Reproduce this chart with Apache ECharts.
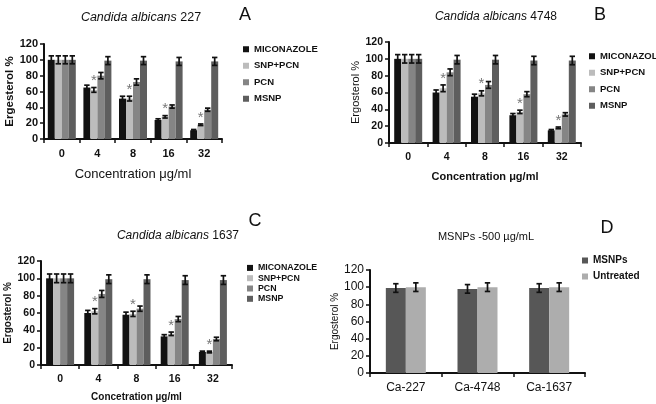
<!DOCTYPE html>
<html>
<head>
<meta charset="UTF-8">
<title>Ergosterol</title>
<script src="https://cdn.jsdelivr.net/npm/echarts@6/dist/echarts.min.js"></script>
<style>
  html, body { margin: 0; padding: 0; background: #fff; }
  #main { width: 656px; height: 404px; }
</style>
</head>
<body>
<div id="main"></div>
<script>
// categories and series
var concentrations = ['0', '4', '8', '16', '32'];
var drugNames = ['MICONAZOLE', 'SNP+PCN', 'PCN', 'MSNP'];
var strains = ['Ca-227', 'Ca-4748', 'Ca-1637'];
var controlNames = ['MSNPs', 'Untreated'];

// panel A - Candida albicans 227 (rows follow drugNames)
var valuesA = [
  [100, 65, 51, 24, 11],
  [100, 62, 51, 28, 18],
  [100, 80, 72, 41, 37],
  [100, 99, 99, 98, 98]
];
var errorsA = [
  [5, 3, 3, 1.5, 1],
  [5, 3, 3, 1.5, 1],
  [5, 4, 4, 2, 2],
  [5, 5, 5, 5, 5]
];
// panel B - Candida albicans 4748
var valuesB = [
  [100, 60, 55, 33, 15],
  [100, 65, 59, 37, 18],
  [100, 84, 69, 58, 34],
  [100, 99, 99, 98, 98]
];
var errorsB = [
  [5, 3, 3, 2, 1],
  [5, 4, 3, 2, 1],
  [5, 4, 4, 3, 2],
  [5, 5, 5, 5, 5]
];
// panel C - Candida albicans 1637
var valuesC = [
  [100, 60, 58, 33, 15],
  [100, 62, 59, 36, 15],
  [100, 82, 65, 53, 30],
  [100, 99, 99, 98, 98]
];
var errorsC = [
  [5, 3, 3, 2, 1],
  [5, 3, 3, 2, 1],
  [5, 4, 3, 3, 2],
  [5, 5, 5, 5, 5]
];
// significance marks on SNP+PCN (1 = asterisk)
var starsSnp = [0, 1, 1, 1, 1];
// panel D - MSNPs 500 µg/mL
var msnpValues = [99, 98, 99];
var untreatedValues = [100, 100, 100];
var msnpErrors = [5, 5, 5];
var untreatedErrors = [5, 5, 5];

var drugColors = ['#121212', '#bcbcbc', '#858585', '#5e5e5e'];
var controlColors = ['#575757', '#adadad'];

var chart = echarts.init(document.getElementById('main'));

function errBars(gi, values, errors, idx, n, w, stars) {
  return {
    type: 'custom',
    xAxisIndex: gi,
    yAxisIndex: gi,
    z: 5,
    silent: true,
    data: values.map(function (v, i) { return [i, v, errors[i], stars ? stars[i] : 0]; }),
    encode: { x: 0, y: 1 },
    renderItem: function (params, api) {
      var c = api.value(0), v = api.value(1), e = api.value(2);
      var off = (idx - (n - 1) / 2) * w;
      var top = api.coord([c, v + e]);
      var bot = api.coord([c, v - e]);
      var x = top[0] + off;
      var cap = 2.7;
      var st = { stroke: '#111', lineWidth: 1.7 };
      var kids = [
        { type: 'line', shape: { x1: x, y1: top[1], x2: x, y2: bot[1] }, style: st },
        { type: 'line', shape: { x1: x - cap, y1: top[1], x2: x + cap, y2: top[1] }, style: st },
        { type: 'line', shape: { x1: x - cap, y1: bot[1], x2: x + cap, y2: bot[1] }, style: st }
      ];
      if (api.value(3)) {
        kids.push({
          type: 'text',
          style: {
            text: '*', x: x, y: top[1] + 1,
            align: 'center', verticalAlign: 'bottom',
            font: '15px Arial, Liberation Sans', fill: '#777'
          }
        });
      }
      return { type: 'group', children: kids };
    }
  };
}

function drugSeries(gi, values, errors) {
  var out = [];
  drugNames.forEach(function (name, k) {
    out.push({
      name: name, type: 'bar', xAxisIndex: gi, yAxisIndex: gi,
      barWidth: 7, barGap: '0%',
      itemStyle: { color: drugColors[k] },
      data: values[k]
    });
  });
  drugNames.forEach(function (name, k) {
    out.push(errBars(gi, values[k], errors[k], k, 4, 7, k === 1 ? starsSnp : null));
  });
  return out;
}

var axisLine = { show: true, lineStyle: { color: '#111', width: 2 } };
var tickStyle = { show: true, length: 4, lineStyle: { color: '#111', width: 1.5 } };

function yAx(gi, fs, bold, name, nfs, nbold, gap) {
  return {
    type: 'value', gridIndex: gi, min: 0, max: 120, interval: 20,
    axisLine: axisLine, axisTick: tickStyle, splitLine: { show: false },
    axisLabel: { color: '#111', fontSize: fs, fontWeight: bold ? 'bold' : 'normal', margin: 6, fontFamily: 'Arial, Liberation Sans' },
    name: name, nameLocation: 'middle', nameGap: gap, nameRotate: 90,
    nameTextStyle: { color: '#111', fontSize: nfs, fontWeight: nbold ? 'bold' : 'normal', fontFamily: 'Arial, Liberation Sans' }
  };
}

function xAx(gi, cats, fs, bold, name, nfs, nbold, gap) {
  return {
    type: 'category', gridIndex: gi, data: cats,
    axisLine: axisLine, axisTick: tickStyle,
    axisLabel: { color: '#111', fontSize: fs, fontWeight: bold ? 'bold' : 'normal', margin: 9, fontFamily: 'Arial, Liberation Sans' },
    name: name, nameLocation: 'middle', nameGap: gap,
    nameTextStyle: { color: '#111', fontSize: nfs, fontWeight: nbold ? 'bold' : 'normal', fontFamily: 'Arial, Liberation Sans' }
  };
}

function legend(items, left, top, fs, gap) {
  return {
    data: items, left: left, top: top, orient: 'vertical',
    icon: 'rect', itemWidth: 6, itemHeight: 6, itemGap: gap,
    selectedMode: false,
    textStyle: { color: '#111', fontSize: fs, fontWeight: 'bold', lineHeight: fs + 1, fontFamily: 'Arial, Liberation Sans' }
  };
}

function titleText(text, x, y, size) {
  return {
    text: text, left: x, top: y, textAlign: 'center',
    textStyle: {
      color: '#111', fontSize: size, fontWeight: 'normal', fontFamily: 'Arial, Liberation Sans',
      rich: { i: { fontStyle: 'italic', fontSize: size, color: '#111', fontFamily: 'Arial, Liberation Sans' } }
    }
  };
}

var series = []
  .concat(drugSeries(0, valuesA, errorsA))
  .concat(drugSeries(1, valuesB, errorsB))
  .concat(drugSeries(2, valuesC, errorsC));

series.push({
  name: controlNames[0], type: 'bar', xAxisIndex: 3, yAxisIndex: 3,
  barWidth: 20, barGap: '0%', itemStyle: { color: controlColors[0] }, data: msnpValues
});
series.push({
  name: controlNames[1], type: 'bar', xAxisIndex: 3, yAxisIndex: 3,
  barWidth: 20, barGap: '0%', itemStyle: { color: controlColors[1] }, data: untreatedValues
});
series.push(errBars(3, msnpValues, msnpErrors, 0, 2, 20, null));
series.push(errBars(3, untreatedValues, untreatedErrors, 1, 2, 20, null));

chart.setOption({
  backgroundColor: '#fff',
  animation: false,
  title: [
    titleText('{i|Candida albicans} 227', 136, 6, 12.5),
    titleText('{i|Candida albicans} 4748', 491, 6, 12),
    titleText('{i|Candida albicans} 1637', 173, 225, 12),
    titleText('MSNPs -500 µg/mL', 481, 226, 11),
    titleText('A', 240, 1, 18),
    titleText('B', 595, 1, 18),
    titleText('C', 250, 207, 18),
    titleText('D', 602, 214, 18)
  ],
  legend: [
    legend(drugNames, 238, 39, 9.5, 6),
    legend(drugNames, 584, 46, 9.5, 6),
    legend(drugNames, 242, 258, 8.8, 0.5),
    legend(controlNames, 577, 250, 10, 5)
  ],
  grid: [
    { left: 44, top: 44, width: 178, height: 95 },
    { left: 389, top: 42, width: 192, height: 101 },
    { left: 41, top: 261, width: 191, height: 104 },
    { left: 370, top: 270, width: 215, height: 103 }
  ],
  xAxis: [
    xAx(0, concentrations, 11, true, 'Concentration μg/ml', 13, false, 29),
    xAx(1, concentrations, 10.5, true, 'Concentration μg/ml', 11, true, 28),
    xAx(2, concentrations, 10.5, true, 'Concetration µg/ml', 10, true, 27),
    xAx(3, strains, 12, false, '', 10, false, 20)
  ],
  yAxis: [
    yAx(0, 11, true, 'Ergesterol %', 11.5, true, 27),
    yAx(1, 10.5, true, 'Ergosterol %', 11, false, 25),
    yAx(2, 10.5, true, 'Ergosterol %', 10, true, 26),
    yAx(3, 12, false, 'Ergosterol %', 10, false, 29)
  ],
  series: series
});
</script>
</body>
</html>
